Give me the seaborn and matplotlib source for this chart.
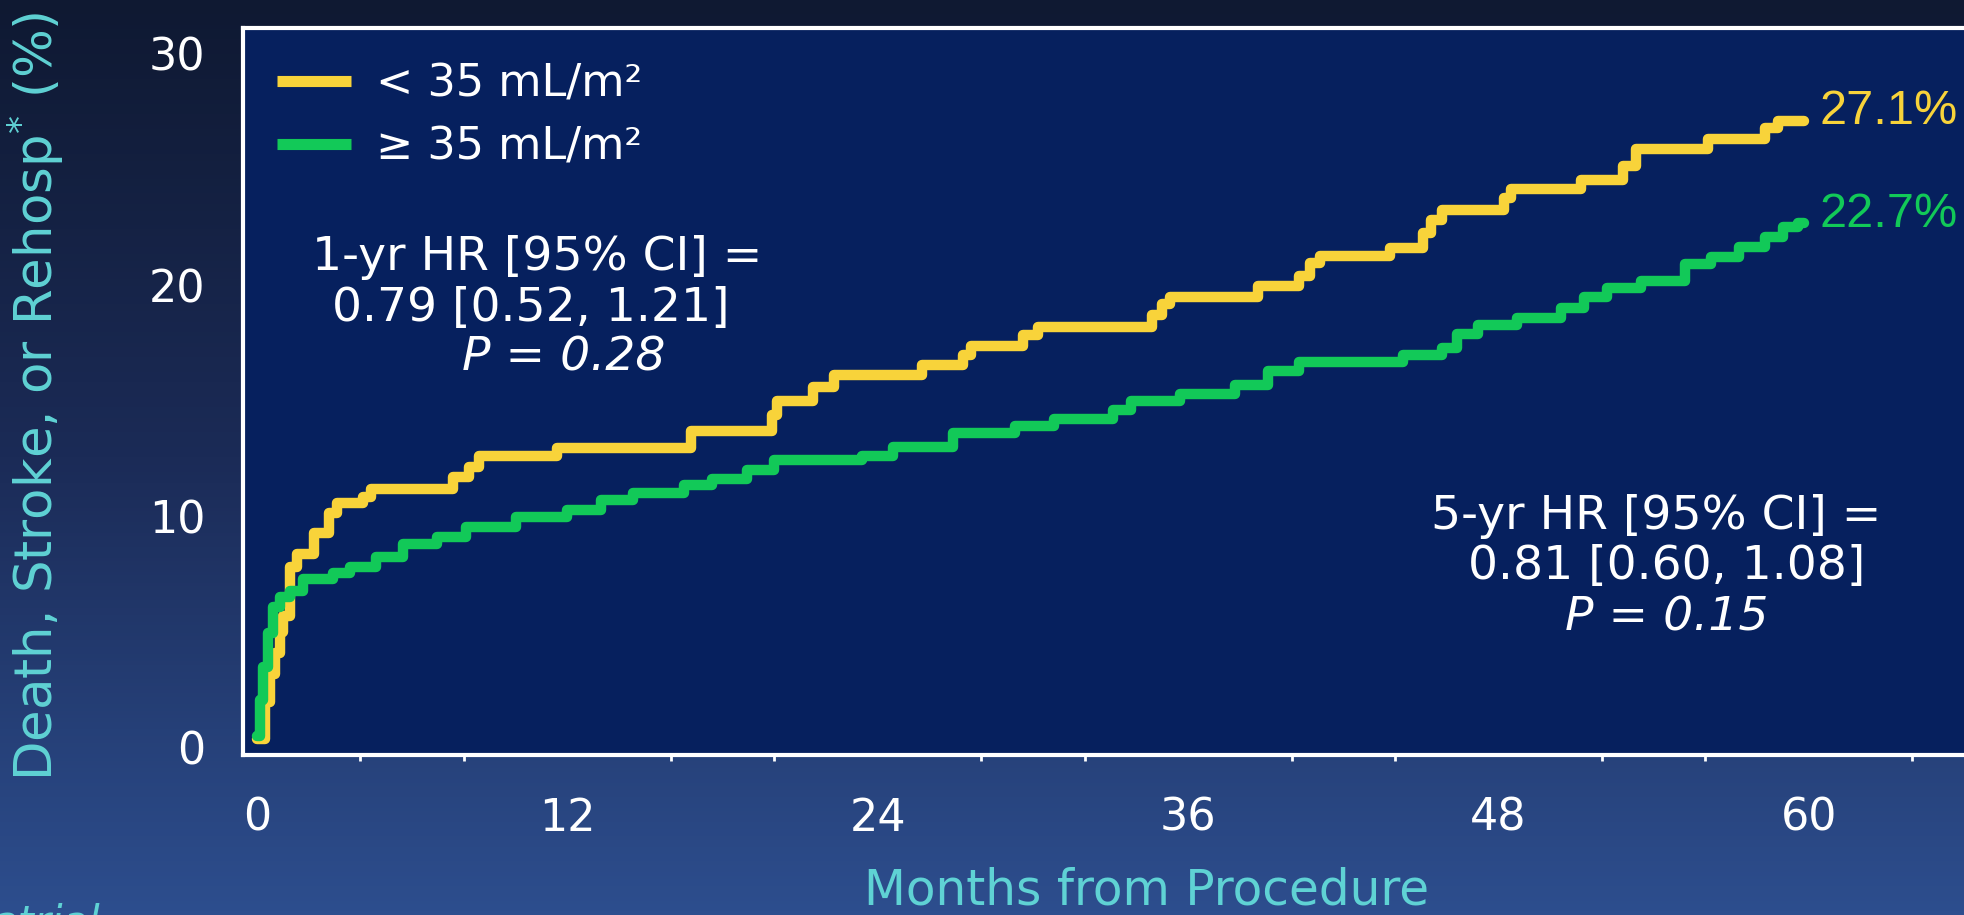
import numpy as np
import pandas as pd
import matplotlib.pyplot as plt
from matplotlib.colors import LinearSegmentedColormap
from matplotlib.ticker import MultipleLocator
import seaborn as sns

sns.set_theme(style="white")
plt.rcParams['font.family'] = ['DejaVu Sans']
plt.rcParams['mathtext.fontset'] = 'dejavusans'

# Kaplan-Meier style cumulative event curves
small_months = [0, 0.3, 0.5, 0.7, 0.9, 1.0, 1.28, 1.55, 2.2, 2.8, 3.1, 4.1, 4.4,
                7.6, 8.2, 8.6, 11.6, 16.8, 19.9, 20.1, 21.5, 22.3, 25.7, 27.3,
                27.6, 29.6, 30.2, 34.6, 35.0, 35.3, 38.7, 40.3, 40.7, 41.1, 43.8,
                45.1, 45.4, 45.8, 48.2, 48.5, 51.2, 52.8, 53.3, 56.1, 58.3, 58.8,
                59.8]
small_rate = [0.4, 2.0, 3.2, 4.1, 5.0, 5.7, 7.8, 8.4, 9.3, 10.15, 10.6, 10.85, 11.2,
              11.7, 12.15, 12.6, 12.95, 13.7, 14.4, 15.0, 15.6, 16.1, 16.55, 17.0,
              17.35, 17.85, 18.2, 18.7, 19.2, 19.5, 19.95, 20.4, 20.95, 21.25, 21.6,
              22.25, 22.8, 23.25, 23.75, 24.15, 24.55, 25.15, 25.9, 26.3, 26.8, 27.1,
              27.1]

large_months = [0, 0.1, 0.24, 0.44, 0.63, 0.9, 1.28, 1.8, 2.95, 3.6, 4.6, 5.65,
                6.95, 8.1, 10.0, 12.0, 13.3, 14.55, 16.5, 17.6, 18.95, 20.0, 23.4,
                24.6, 26.9, 29.3, 30.8, 33.1, 33.8, 35.7, 37.8, 39.1, 40.3, 44.3,
                45.8, 46.4, 47.2, 48.7, 50.4, 51.3, 52.2, 53.5, 55.2, 56.2, 57.3,
                58.3, 59.0, 59.6, 59.8]
large_rate = [0.5, 2.07, 3.5, 4.95, 6.1, 6.5, 6.8, 7.3, 7.55, 7.8, 8.25, 8.8,
              9.1, 9.55, 10.0, 10.3, 10.7, 11.0, 11.35, 11.6, 12.0, 12.45, 12.6,
              13.0, 13.6, 13.9, 14.2, 14.6, 15.0, 15.3, 15.7, 16.3, 16.7, 17.0,
              17.3, 17.9, 18.3, 18.6, 19.0, 19.5, 19.9, 20.2, 20.9, 21.2, 21.65,
              22.1, 22.5, 22.7, 22.7]

groups = ["< 35 mL/m²", "≥ 35 mL/m²"]
colors = ["#f8d33a", "#12c958"]
end_labels = ["27.1%", "22.7%"]
x_ticks = [0, 12, 24, 36, 48, 60]
y_ticks = [0, 10, 20, 30]

df = pd.concat([
    pd.DataFrame({"month": small_months, "rate": small_rate, "group": groups[0]}),
    pd.DataFrame({"month": large_months, "rate": large_rate, "group": groups[1]}),
])

cyan = "#5fd2d4"
fig = plt.figure(figsize=(19.64, 9.15), dpi=100)

# slide background gradient
bg = fig.add_axes([0, 0, 1, 1], zorder=-10)
cmap = LinearSegmentedColormap.from_list("bg", ["#0f1932", "#1b2b57", "#2d4e8e"])
bg.imshow(np.linspace(0, 1, 256).reshape(-1, 1), cmap=cmap, aspect="auto",
          extent=[0, 1, 0, 1], origin="upper")
bg.axis("off")

ax = fig.add_axes([0.1237, 0.1749, 0.8763, 0.795])
ax.set_facecolor("#06205e")

sns.lineplot(data=df, x="month", y="rate", hue="group", hue_order=groups,
             palette=colors, estimator=None, drawstyle="steps-post",
             linewidth=7.5, solid_capstyle="round", ax=ax)

ax.set_xlim(-0.54, 66.0)
ax.set_ylim(-0.31, 31.14)
ax.set_xticks(x_ticks)
ax.set_yticks(y_ticks)
ax.xaxis.set_minor_locator(MultipleLocator(4))
ax.tick_params(axis="both", which="major", colors="white", labelsize=32,
               direction="out", length=9, width=2.5)
ax.tick_params(axis="x", which="major", pad=21)
ax.tick_params(axis="y", which="major", pad=18)
ax.tick_params(axis="x", which="minor", colors="white", direction="out",
               length=4, width=2, bottom=True)

ax.spines["right"].set_visible(False)
for s in ["left", "bottom", "top"]:
    ax.spines[s].set_color("white")
    ax.spines[s].set_linewidth(3)

ax.set_ylabel("Death, Stroke, or Rehosp$^{*}$ (%)", color=cyan, fontsize=37)
ax.yaxis.label.set_verticalalignment("center")
ax.yaxis.set_label_coords(-0.121, 0.493)
ax.set_xlabel("Months from Procedure", color=cyan, fontsize=35)
ax.xaxis.label.set_verticalalignment("center")
ax.xaxis.set_label_coords(0.525, -0.186)

leg = ax.legend(loc="upper left", bbox_to_anchor=(0.0197, 0.952), frameon=False,
                fontsize=32, handlelength=1.67, handletextpad=0.55,
                labelspacing=0.45, borderpad=0, borderaxespad=0)
for t in leg.get_texts():
    t.set_color("white")
for h in leg.get_lines():
    h.set_linewidth(8)
    h.set_solid_capstyle("butt")

# hazard ratio annotations
txt = dict(color="white", fontsize=34, ha="center", va="center")
ax.text(10.83, 21.2, "1-yr HR [95% CI] =", **txt)
ax.text(10.6, 19.0, "0.79 [0.52, 1.21]", **txt)
ax.text(11.88, 16.85, "P = 0.28", style="italic", **txt)
ax.text(54.1, 10.0, "5-yr HR [95% CI] =", **txt)
ax.text(54.5, 7.85, "0.81 [0.60, 1.08]", **txt)
ax.text(54.5, 5.6, "P = 0.15", style="italic", **txt)

# end-of-curve percentages
end_font = ['Liberation Sans', 'DejaVu Sans']
ax.text(60.4, 27.5, end_labels[0], color=colors[0], fontsize=35, va="center",
        ha="left", family=end_font)
ax.text(60.4, 23.05, end_labels[1], color=colors[1], fontsize=35, va="center",
        ha="left", family=end_font)

# cut-off footnote at the bottom edge
fig.text(-0.004, -0.022, "atrial", color=cyan, fontsize=30, style="italic",
         va="baseline", ha="left")

fig.savefig("out.png", dpi=100)
